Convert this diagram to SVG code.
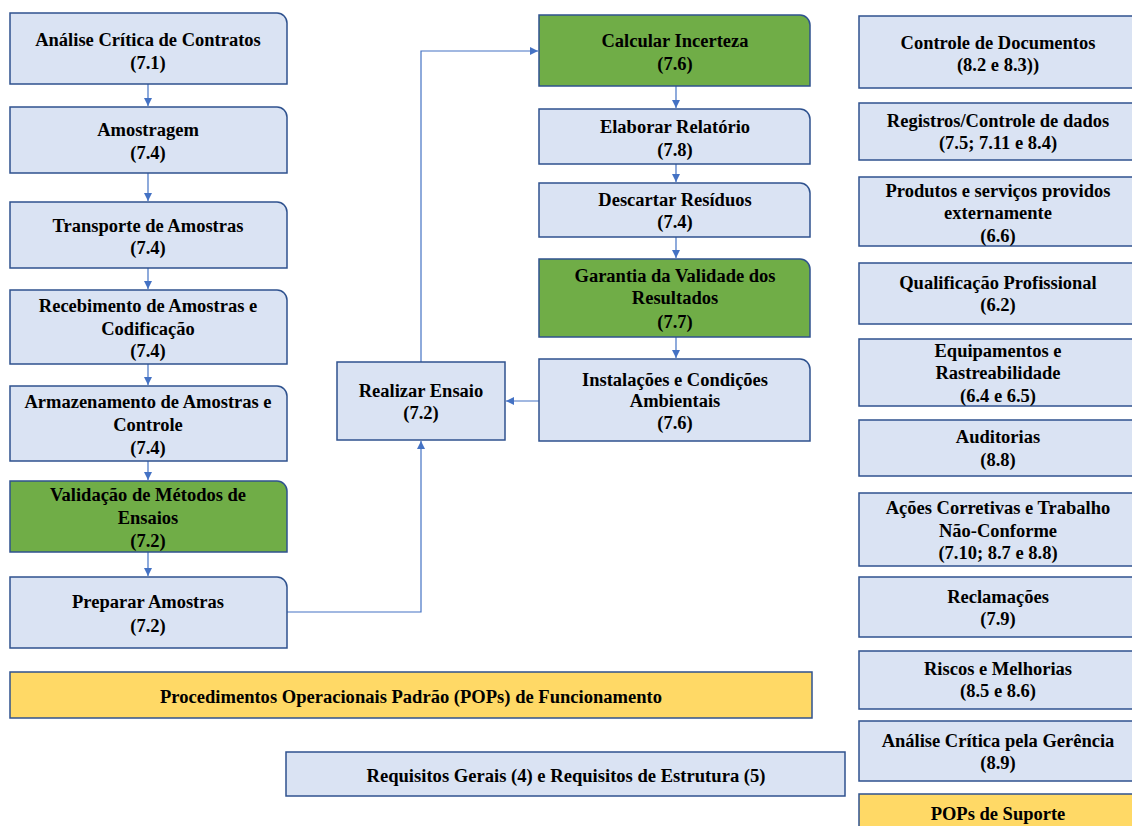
<svg xmlns="http://www.w3.org/2000/svg" width="1132" height="826" viewBox="0 0 1132 826">
  <defs>
    <style>
      .box { fill: #DAE3F3; stroke: #2F528F; stroke-width: 1.5; }
      .green { fill: #70AD47; stroke: #2F528F; stroke-width: 1.5; }
      .yellow { fill: #FFD966; stroke: #2F528F; stroke-width: 1.5; }
      .conn { fill: none; stroke: #4472C4; stroke-width: 1.2; }
      text { font-family: "Liberation Serif", "Times New Roman", serif; font-weight: bold; font-size: 18.5px; fill: #000; text-anchor: middle; }
    </style>
    <marker id="arrow" viewBox="0 0 10 10" refX="10" refY="5" markerWidth="8" markerHeight="8" markerUnits="userSpaceOnUse" orient="auto">
      <path d="M0,0 L10,5 L0,10 Z" fill="#4472C4"/>
    </marker>
  </defs>

  <rect width="1132" height="826" fill="#FFFFFF"/>

  <!-- connectors -->
  <g id="connectors">
    <line class="conn" x1="148" y1="84" x2="148" y2="106" marker-end="url(#arrow)"/>
    <line class="conn" x1="148" y1="173" x2="148" y2="201" marker-end="url(#arrow)"/>
    <line class="conn" x1="148" y1="268" x2="148" y2="289" marker-end="url(#arrow)"/>
    <line class="conn" x1="148" y1="364" x2="148" y2="385" marker-end="url(#arrow)"/>
    <line class="conn" x1="148" y1="461" x2="148" y2="480" marker-end="url(#arrow)"/>
    <line class="conn" x1="148" y1="552" x2="148" y2="576" marker-end="url(#arrow)"/>
    <polyline class="conn" points="287,612 421,612 421,441" marker-end="url(#arrow)"/>
    <polyline class="conn" points="421,362 421,51 538,51" marker-end="url(#arrow)"/>
    <line class="conn" x1="676" y1="86" x2="676" y2="108" marker-end="url(#arrow)"/>
    <line class="conn" x1="676" y1="164" x2="676" y2="182" marker-end="url(#arrow)"/>
    <line class="conn" x1="676" y1="237" x2="676" y2="258" marker-end="url(#arrow)"/>
    <line class="conn" x1="676" y1="337" x2="676" y2="358" marker-end="url(#arrow)"/>
    <line class="conn" x1="539" y1="401" x2="506" y2="401" marker-end="url(#arrow)"/>
  </g>

  <!-- main flow, left column -->
  <g id="analise-contratos">
    <path class="box" d="M10,13 H277 A10,10 0 0 1 287,23 V84 H10 Z"/>
    <text x="148" y="46">Análise Crítica de Contratos</text>
    <text x="148" y="69">(7.1)</text>
  </g>
  <g id="amostragem">
    <path class="box" d="M10,107 H277 A10,10 0 0 1 287,117 V173 H10 Z"/>
    <text x="148" y="136">Amostragem</text>
    <text x="148" y="159">(7.4)</text>
  </g>
  <g id="transporte">
    <path class="box" d="M10,202 H277 A10,10 0 0 1 287,212 V268 H10 Z"/>
    <text x="148" y="232">Transporte de Amostras</text>
    <text x="148" y="254">(7.4)</text>
  </g>
  <g id="recebimento">
    <path class="box" d="M10,290 H277 A10,10 0 0 1 287,300 V364 H10 Z"/>
    <text x="148" y="312">Recebimento de Amostras e</text>
    <text x="148" y="335">Codificação</text>
    <text x="148" y="357">(7.4)</text>
  </g>
  <g id="armazenamento">
    <path class="box" d="M10,386 H277 A10,10 0 0 1 287,396 V461 H10 Z"/>
    <text x="148" y="408">Armazenamento de Amostras e</text>
    <text x="148" y="431">Controle</text>
    <text x="148" y="454">(7.4)</text>
  </g>
  <g id="validacao-metodos">
    <path class="green" d="M10,481 H277 A10,10 0 0 1 287,491 V552 H10 Z"/>
    <text x="148" y="501">Validação de Métodos de</text>
    <text x="148" y="524">Ensaios</text>
    <text x="148" y="547">(7.2)</text>
  </g>
  <g id="preparar-amostras">
    <path class="box" d="M10,577 H277 A10,10 0 0 1 287,587 V648 H10 Z"/>
    <text x="148" y="608">Preparar Amostras</text>
    <text x="148" y="632">(7.2)</text>
  </g>

  <!-- test execution -->
  <g id="realizar-ensaio">
    <rect class="box" x="337" y="362" width="168" height="78"/>
    <text x="421" y="397">Realizar Ensaio</text>
    <text x="421" y="419">(7.2)</text>
  </g>

  <!-- main flow, middle column -->
  <g id="calcular-incerteza">
    <path class="green" d="M539,15 H800 A10,10 0 0 1 810,25 V86 H539 Z"/>
    <text x="675" y="47">Calcular Incerteza</text>
    <text x="675" y="70">(7.6)</text>
  </g>
  <g id="elaborar-relatorio">
    <path class="box" d="M539,109 H800 A10,10 0 0 1 810,119 V164 H539 Z"/>
    <text x="675" y="133">Elaborar Relatório</text>
    <text x="675" y="156">(7.8)</text>
  </g>
  <g id="descartar-residuos">
    <path class="box" d="M539,183 H800 A10,10 0 0 1 810,193 V237 H539 Z"/>
    <text x="675" y="206">Descartar Resíduos</text>
    <text x="675" y="228">(7.4)</text>
  </g>
  <g id="garantia-validade">
    <path class="green" d="M539,259 H800 A10,10 0 0 1 810,269 V337 H539 Z"/>
    <text x="675" y="282">Garantia da Validade dos</text>
    <text x="675" y="304">Resultados</text>
    <text x="675" y="328">(7.7)</text>
  </g>
  <g id="instalacoes">
    <path class="box" d="M539,359 H800 A10,10 0 0 1 810,369 V441 H539 Z"/>
    <text x="675" y="386">Instalações e Condições</text>
    <text x="675" y="407">Ambientais</text>
    <text x="675" y="429">(7.6)</text>
  </g>

  <!-- bottom bars -->
  <g id="pops-funcionamento">
    <rect class="yellow" x="10" y="672" width="802" height="46"/>
    <text x="411" y="703" textLength="502" lengthAdjust="spacingAndGlyphs">Procedimentos Operacionais Padrão (POPs) de Funcionamento</text>
  </g>
  <g id="requisitos">
    <rect class="box" x="286" y="752" width="559" height="44"/>
    <text x="566" y="782" textLength="399" lengthAdjust="spacingAndGlyphs">Requisitos Gerais (4) e Requisitos de Estrutura (5)</text>
  </g>

  <!-- support processes, right column -->
  <g id="controle-documentos">
    <rect class="box" x="859" y="16" width="290" height="72"/>
    <text x="998" y="49">Controle de Documentos</text>
    <text x="998" y="71">(8.2 e 8.3))</text>
  </g>
  <g id="registros">
    <rect class="box" x="859" y="103" width="290" height="57"/>
    <text x="998" y="127">Registros/Controle de dados</text>
    <text x="998" y="149">(7.5; 7.11 e 8.4)</text>
  </g>
  <g id="produtos-servicos">
    <rect class="box" x="859" y="177" width="290" height="69"/>
    <text x="998" y="197">Produtos e serviços providos</text>
    <text x="998" y="219">externamente</text>
    <text x="998" y="242">(6.6)</text>
  </g>
  <g id="qualificacao">
    <rect class="box" x="859" y="263" width="290" height="61"/>
    <text x="998" y="289">Qualificação Profissional</text>
    <text x="998" y="311">(6.2)</text>
  </g>
  <g id="equipamentos">
    <rect class="box" x="859" y="339" width="290" height="67"/>
    <text x="998" y="357">Equipamentos e</text>
    <text x="998" y="379">Rastreabilidade</text>
    <text x="998" y="402">(6.4 e 6.5)</text>
  </g>
  <g id="auditorias">
    <rect class="box" x="859" y="420" width="290" height="56"/>
    <text x="998" y="443">Auditorias</text>
    <text x="998" y="466">(8.8)</text>
  </g>
  <g id="acoes-corretivas">
    <rect class="box" x="859" y="493" width="290" height="73"/>
    <text x="998" y="514">Ações Corretivas e Trabalho</text>
    <text x="998" y="537">Não-Conforme</text>
    <text x="998" y="559">(7.10; 8.7 e 8.8)</text>
  </g>
  <g id="reclamacoes">
    <rect class="box" x="859" y="577" width="290" height="60"/>
    <text x="998" y="603">Reclamações</text>
    <text x="998" y="625">(7.9)</text>
  </g>
  <g id="riscos">
    <rect class="box" x="859" y="651" width="290" height="58"/>
    <text x="998" y="675">Riscos e Melhorias</text>
    <text x="998" y="697">(8.5 e 8.6)</text>
  </g>
  <g id="analise-gerencia">
    <rect class="box" x="859" y="721" width="290" height="60"/>
    <text x="998" y="747">Análise Crítica pela Gerência</text>
    <text x="998" y="769">(8.9)</text>
  </g>
  <g id="pops-suporte">
    <rect class="yellow" x="859" y="794" width="290" height="50"/>
    <text x="998" y="820">POPs de Suporte</text>
  </g>
</svg>
